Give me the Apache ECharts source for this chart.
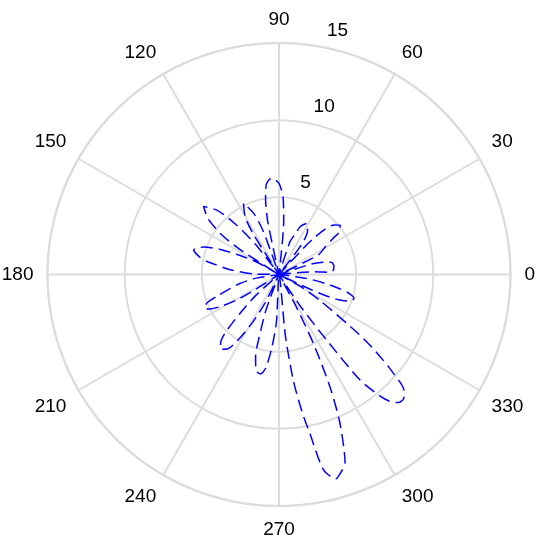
<!DOCTYPE html>
<html>
<head>
<meta charset="utf-8">
<script src="https://cdn.jsdelivr.net/npm/echarts@6/dist/echarts.min.js"></script>
<style>
html,body{margin:0;padding:0;background:#fff;}
#chart{width:550px;height:549px;}
</style>
</head>
<body>
<div id="chart"></div>
<script>
// Polar curve: angle in degrees, radius in data units
const angleDeg = [
  0, 4.4, 2.5, 5, 9, 13, 14.6, 18, 21,
  26.5, 31, 33.7, 36, 39, 42, 44.5, 46, 47, 51,
  53, 57, 61.5, 66, 68.3, 71.5, 76,
  85, 87, 90, 94.5, 98, 100, 102, 105,
  110, 112.5, 116.5, 120.5, 122.5, 125,
  128, 131, 134, 138, 142, 145.5, 147.5, 150,
  151, 154, 157, 160, 164, 168, 170, 174.5, 179, 182,
  189, 193, 196, 199, 201.5, 204, 206.5, 208.5, 211, 212.5, 215,
  222, 225, 227.4, 230, 232, 235, 237.8, 241, 244, 247,
  250, 252.5, 254, 256.5, 259.5, 262, 264.5, 267, 270,
  276, 277.7, 279.5, 281, 282.8, 285.5, 288, 289.3, 292.3, 294.4, 296.5, 298, 300,
  304, 306, 307.5, 309.5, 311.1, 313, 315.1, 317, 319.2, 321.5, 323.2, 327.6, 331, 333,
  334.5, 335.5, 337, 339.5, 342.4, 345, 347, 349.2, 352, 356
];
const radiusVal = [
  0, 2.33, 3.3, 3.55, 3.6, 3.5, 3.2, 2.2, 0,
  2.85, 3.5, 4.2, 4.9, 5.1, 4.8, 4.2, 3.4, 2.5, 0,
  2.45, 3.4, 3.77, 3.4, 2.8, 2.24, 0,
  3.5, 5.0, 5.9, 6.27, 5.9, 5.0, 3.5, 0,
  3.0, 4.3, 5.16, 4.3, 3.0, 0,
  2.5, 4.4, 5.8, 6.58, 5.8, 4.4, 2.8, 0,
  1.7, 2.8, 4.2, 5.2, 5.75, 5.2, 4.65, 3.1, 1.5, 0,
  1.5, 2.6, 3.3, 4.15, 5.0, 5.3, 5.0, 4.4, 3.2, 1.8, 0,
  2.0, 3.6, 5.2, 5.9, 6.15, 5.9, 5.1, 3.6, 2.0, 0,
  2.5, 4.3, 5.5, 6.4, 6.55, 6.1, 4.7, 3.0, 0,
  4.0, 6.9, 9.0, 10.5, 12.95, 13.75, 13.3, 12.95, 10.4, 8.0, 5.0, 2.5, 0,
  2.5, 5.25, 8.6, 10.1, 10.9, 11.35, 11.4, 11.1, 9.8, 8.0, 6.5, 3.15, 1.5, 0,
  2.0, 3.2, 4.2, 4.95, 5.1, 4.7, 3.95, 3.0, 1.8, 0
];
// Axis settings
const angleMin = 0, angleMax = 360, angleStep = 30;
const radiusMin = 0, radiusMax = 15, radiusStep = 5;

const data = angleDeg.map((a, i) => [radiusVal[i], a]);
const gridColor = '#dcdcdc';
const font = 'Arial, "Liberation Sans", Helvetica, sans-serif';

const chart = echarts.init(document.getElementById('chart'), null, {renderer: 'canvas'});
chart.setOption({
  animation: false,
  backgroundColor: '#ffffff',
  polar: [
    {center: [279, 274.5], radius: 231.5},
    {center: [279, 274.5], radius: [17, 248]}
  ],
  angleAxis: [
    {
      polarIndex: 0, type: 'value', min: angleMin, max: angleMax, interval: angleStep,
      startAngle: 0, clockwise: false,
      axisLine: {show: true, lineStyle: {color: gridColor, width: 2}},
      axisTick: {show: false},
      axisLabel: {margin: 14, color: '#000', fontSize: 19, fontFamily: font,
        formatter: v => (v >= 360 ? '' : String(v))},
      splitLine: {show: true, lineStyle: {color: gridColor, width: 2}}
    },
    {
      polarIndex: 1, type: 'value', min: angleMin, max: angleMax,
      startAngle: 80, clockwise: false, show: false
    }
  ],
  radiusAxis: [
    {
      polarIndex: 0, type: 'value', min: radiusMin, max: radiusMax, interval: radiusStep,
      axisLine: {show: false}, axisTick: {show: false}, axisLabel: {show: false},
      splitLine: {show: true, lineStyle: {color: gridColor, width: 2}}
    },
    {
      polarIndex: 1, type: 'value', min: radiusMin, max: radiusMax, interval: radiusStep,
      axisLine: {show: false}, axisTick: {show: false}, splitLine: {show: false},
      axisLabel: {show: true, showMinLabel: false, margin: -5, align: 'left', verticalAlign: 'middle',
        color: '#000', fontSize: 19, fontFamily: font}
    }
  ],
  series: [{
    type: 'line', coordinateSystem: 'polar', polarIndex: 0,
    data: data, showSymbol: false, smooth: 0.25,
    lineStyle: {color: '#0000ff', width: 1.5, type: [12, 6]}
  }]
});
</script>
</body>
</html>
